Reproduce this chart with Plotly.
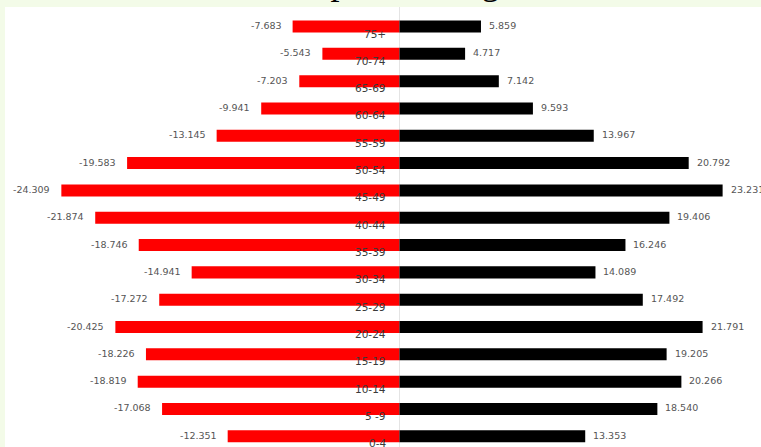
import plotly.graph_objects as go

# Age bands, youngest first (drawn bottom to top)
age_groups = ["0-4", "5 -9", "10-14", "15-19", "20-24", "25-29", "30-34", "35-39",
              "40-44", "45-49", "50-54", "55-59", "60-64", "65-69", "70-74", "75+"]

# Left side (red) values, negative so they extend to the left
left_values = [-12.351, -17.068, -18.819, -18.226, -20.425, -17.272, -14.941, -18.746,
               -21.874, -24.309, -19.583, -13.145, -9.941, -7.203, -5.543, -7.683]

# Right side (black) values
right_values = [13.353, 18.540, 20.266, 19.205, 21.791, 17.492, 14.089, 16.246,
                19.406, 23.231, 20.792, 13.967, 9.593, 7.142, 4.717, 5.859]

title_text = "Total Population Age"

W, H = 761, 447
frame_color = "#F3FBE8"
label_font = dict(family="DejaVu Sans", size=9.5, color="#555555")
cat_font = dict(family="DejaVu Sans", size=10.5, color="#3a3a3a")

fig = go.Figure()
fig.add_trace(go.Bar(
    y=age_groups, x=left_values, orientation="h",
    marker=dict(color="#FF0000", line=dict(width=0)),
    hoverinfo="x+y", showlegend=False,
))
fig.add_trace(go.Bar(
    y=age_groups, x=right_values, orientation="h",
    marker=dict(color="#000000", line=dict(width=0)),
    hoverinfo="x+y", showlegend=False,
))

annotations = []
# value labels just beyond each bar end
for cat, v in zip(age_groups, left_values):
    annotations.append(dict(x=v, y=cat, xref="x", yref="y", text=f"{v:.3f}",
                            showarrow=False, xanchor="right", yanchor="middle",
                            xshift=-9, yshift=1, font=label_font))
for cat, v in zip(age_groups, right_values):
    annotations.append(dict(x=v, y=cat, xref="x", yref="y", text=f"{v:.3f}",
                            showarrow=False, xanchor="left", yanchor="middle",
                            xshift=6, yshift=1, font=label_font))
# age band labels sit beside the zero line, just under each bar
for cat in age_groups:
    annotations.append(dict(x=0, y=cat, xref="x", yref="y", text=cat,
                            showarrow=False, xanchor="right", yanchor="middle",
                            xshift=-11, yshift=-7, font=cat_font))
# chart title, mostly above the top edge
annotations.append(dict(x=0.5, y=1, xref="paper", yref="paper", text=title_text,
                        showarrow=False, xanchor="center", yanchor="bottom",
                        xshift=-21, yshift=3,
                        font=dict(family="Liberation Serif", size=36, color="#000000")))

fig.update_layout(
    width=W, height=H,
    margin=dict(l=5, r=0, t=7, b=0),
    paper_bgcolor=frame_color,
    plot_bgcolor="#FFFFFF",
    barmode="overlay",
    bargap=0.56,
    annotations=annotations,
    xaxis=dict(range=[-28.36, 25.99], showgrid=False, showticklabels=False,
               zeroline=True, zerolinecolor="#E4E4E4", zerolinewidth=1, ticks=""),
    yaxis=dict(range=[-0.392, 15.714], showgrid=False, showticklabels=False,
               zeroline=False, ticks="", categoryorder="array", categoryarray=age_groups),
)

fig.write_html("out.html")
